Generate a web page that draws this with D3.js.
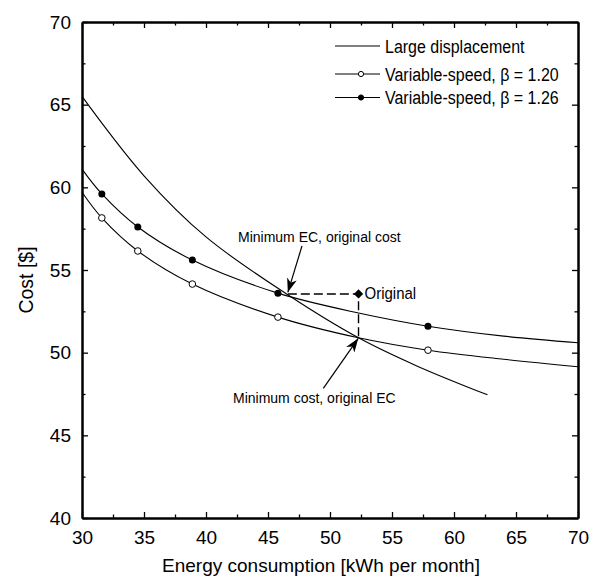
<!DOCTYPE html>
<html>
<head>
<meta charset="utf-8">
<script src="https://cdn.jsdelivr.net/npm/d3@7"></script>
<style>
  body { margin: 0; background: #fff; }
  text { font-family: "Liberation Sans", Arial, sans-serif; fill: #000; }
</style>
</head>
<body>
<div id="chart"></div>
<script>
// data
const largeDisp = [
  [30, 65.5], [35, 60.7], [40, 57.0], [46.5, 53.55], [52.3, 50.9], [57, 49.2], [62.7, 47.45]
];
const vs126 = [
  [30, 61.1], [31.6, 59.6], [34.5, 57.6], [38.9, 55.6], [45.8, 53.6],
  [52.3, 52.4], [57.9, 51.6], [64, 51.0], [70, 50.6]
];
const vs120 = [
  [30, 59.7], [31.6, 58.15], [34.5, 56.15], [38.9, 54.15], [45.8, 52.15],
  [52.3, 50.9], [57.9, 50.15], [64, 49.6], [70, 49.15]
];
const markerX = [31.6, 34.5, 38.9, 45.8, 57.9];
const marker126 = [59.6, 57.6, 55.6, 53.6, 51.6];
const marker120 = [58.15, 56.15, 54.15, 52.15, 50.15];
const original = [52.3, 53.55];
const xTicks = [30, 35, 40, 45, 50, 55, 60, 65, 70];
const yTicks = [40, 45, 50, 55, 60, 65, 70];
const legendLabels = ["Large displacement", "Variable-speed, \u03b2 = 1.20", "Variable-speed, \u03b2 = 1.26"];

// Set the dimensions and margins of the diagram
let margin = { top: 22, right: 18, bottom: 61, left: 82 },
    width = 596 - margin.left - margin.right,
    height = 579 - margin.top - margin.bottom;

let svg = d3.select("#chart")
    .append("svg")
    .attr("width", width + margin.left + margin.right)
    .attr("height", height + margin.top + margin.bottom)
    .append("g")
    .attr("transform", "translate(" + margin.left + "," + margin.top + ")");

let x = d3.scaleLinear().domain([30, 70]).range([0, width]);
let y = d3.scaleLinear().domain([40, 70]).range([height, 0]);

// minor ticks halfway between majors
let xMinor = xTicks.slice(1).map(d => d - 2.5);
let yMinor = yTicks.slice(1).map(d => d - 2.5);

function styleAxis(g) {
    g.select(".domain").attr("stroke", "#000").attr("stroke-width", 2);
    g.selectAll(".tick line").attr("stroke", "#000").attr("stroke-width", 1.3);
    g.selectAll(".tick text").style("font-size", "19px").attr("fill", "#000");
}

// bottom axis, labels
svg.append("g")
    .attr("transform", "translate(0," + height + ")")
    .call(d3.axisBottom(x).tickValues(xTicks).tickSizeInner(-6).tickSizeOuter(0).tickPadding(13)
        .tickFormat(d3.format("d")))
    .call(styleAxis);
svg.append("g")
    .attr("transform", "translate(0," + height + ")")
    .call(d3.axisBottom(x).tickValues(xMinor).tickSizeInner(-3.5).tickSizeOuter(0).tickFormat(""))
    .call(styleAxis);

// top axis
svg.append("g")
    .call(d3.axisTop(x).tickValues(xTicks).tickSizeInner(-6).tickSizeOuter(0).tickFormat(""))
    .call(styleAxis);
svg.append("g")
    .call(d3.axisTop(x).tickValues(xMinor).tickSizeInner(-3.5).tickSizeOuter(0).tickFormat(""))
    .call(styleAxis);

// left axis, labels
svg.append("g")
    .call(d3.axisLeft(y).tickValues(yTicks).tickSizeInner(-6).tickSizeOuter(0).tickPadding(11)
        .tickFormat(d3.format("d")))
    .call(styleAxis);
svg.append("g")
    .call(d3.axisLeft(y).tickValues(yMinor).tickSizeInner(-3.5).tickSizeOuter(0).tickFormat(""))
    .call(styleAxis);

// right axis
svg.append("g")
    .attr("transform", "translate(" + width + ",0)")
    .call(d3.axisRight(y).tickValues(yTicks).tickSizeInner(-6).tickSizeOuter(0).tickFormat(""))
    .call(styleAxis);
svg.append("g")
    .attr("transform", "translate(" + width + ",0)")
    .call(d3.axisRight(y).tickValues(yMinor).tickSizeInner(-3.5).tickSizeOuter(0).tickFormat(""))
    .call(styleAxis);

// axis titles
svg.append("text")
    .attr("x", 239)
    .attr("y", height + 54)
    .attr("text-anchor", "middle")
    .style("font-size", "19px")
    .text("Energy consumption [kWh per month]");

svg.append("text")
    .attr("transform", "translate(-49," + 258 + ") rotate(-90)")
    .attr("text-anchor", "middle")
    .style("font-size", "19.5px")
    .text("Cost [$]");

// curves
let line = d3.line()
    .x(d => x(d[0]))
    .y(d => y(d[1]))
    .curve(d3.curveCatmullRom.alpha(0.5));

[largeDisp, vs126, vs120].forEach(function(s) {
    svg.append("path")
        .datum(s)
        .attr("fill", "none")
        .attr("stroke", "#000")
        .attr("stroke-width", 1.1)
        .attr("d", line);
});

// markers
svg.selectAll("circle.open")
    .data(markerX.map((d, i) => [d, marker120[i]]))
    .enter()
    .append("circle")
    .attr("class", "open")
    .attr("cx", d => x(d[0]))
    .attr("cy", d => y(d[1]))
    .attr("r", 3.3)
    .attr("fill", "#fff")
    .attr("stroke", "#000")
    .attr("stroke-width", 1);

svg.selectAll("circle.filled")
    .data(markerX.map((d, i) => [d, marker126[i]]))
    .enter()
    .append("circle")
    .attr("class", "filled")
    .attr("cx", d => x(d[0]))
    .attr("cy", d => y(d[1]))
    .attr("r", 3.5)
    .attr("fill", "#000");

// dashed guide from minimum EC point to original, then down to minimum cost
svg.append("path")
    .attr("fill", "none")
    .attr("stroke", "#000")
    .attr("stroke-width", 1.4)
    .attr("stroke-dasharray", "9,4")
    .attr("d", "M" + x(46.6) + "," + y(original[1]) +
        "H" + x(original[0]) + "V" + y(50.9));

// original point (diamond)
svg.append("path")
    .attr("d", d3.symbol().type(d3.symbolDiamond2).size(55))
    .attr("transform", "translate(" + x(original[0]) + "," + y(original[1]) + ")")
    .attr("fill", "#000");

svg.append("text")
    .attr("transform", "translate(" + (x(original[0]) + 6) + "," + (y(original[1]) + 5.5) + ") scale(1,1.1)")
    .style("font-size", "15px")
    .text("Original");

// arrow heads
svg.append("defs").append("marker")
    .attr("id", "arrow")
    .attr("viewBox", "0 0 14 10")
    .attr("refX", 14)
    .attr("refY", 5)
    .attr("markerWidth", 14)
    .attr("markerHeight", 10)
    .attr("markerUnits", "userSpaceOnUse")
    .attr("orient", "auto")
    .append("path")
    .attr("d", "M0,0 L14,5 L0,10 L4,5 Z")
    .attr("fill", "#000");

function arrow(x1, y1, x2, y2) {
    svg.append("line")
        .attr("x1", x(x1)).attr("y1", y(y1))
        .attr("x2", x(x2)).attr("y2", y(y2))
        .attr("stroke", "#000")
        .attr("stroke-width", 1.2)
        .attr("marker-end", "url(#arrow)");
}
arrow(47.74, 56.45, 46.6, 53.65);
arrow(49.46, 47.84, 52.28, 50.87);

svg.append("text")
    .attr("x", 238 - margin.left)
    .attr("y", 242 - margin.top)
    .style("font-size", "14px")
    .text("Minimum EC, original cost");

svg.append("text")
    .attr("x", 233 - margin.left)
    .attr("y", 403 - margin.top)
    .style("font-size", "14px")
    .text("Minimum cost, original EC");

// legend
let legend = svg.append("g")
    .attr("transform", "translate(" + (335 - margin.left) + "," + (46 - margin.top) + ")");

let rows = legend.selectAll("g")
    .data(legendLabels)
    .enter()
    .append("g")
    .attr("transform", (d, i) => "translate(0," + [0, 28, 51.5][i] + ")");

rows.append("line")
    .attr("x1", 0).attr("x2", 45)
    .attr("stroke", "#000")
    .attr("stroke-width", 1.1);

rows.filter((d, i) => i > 0)
    .append("circle")
    .attr("cx", 26)
    .attr("r", 2.6)
    .attr("fill", (d, i) => i === 0 ? "#fff" : "#000")
    .attr("stroke", "#000")
    .attr("stroke-width", 1);

rows.append("text")
    .attr("transform", "translate(50,6.5) scale(1,1.1)")
    .style("font-size", "16px")
    .text(d => d);
</script>
</body>
</html>
